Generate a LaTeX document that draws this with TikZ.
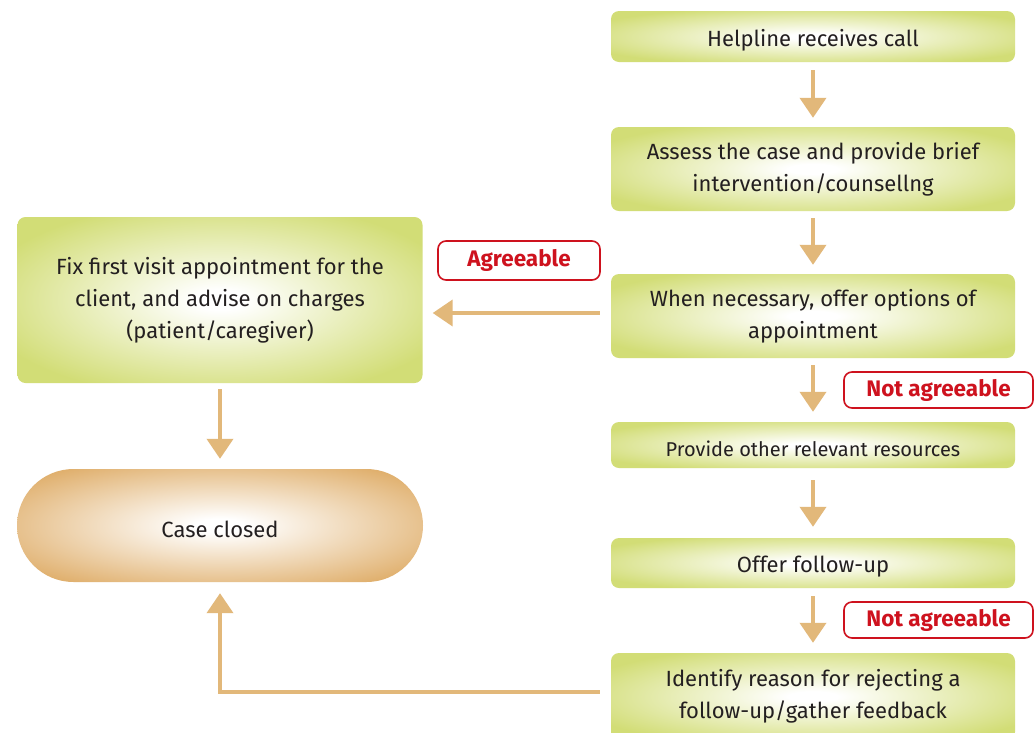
\documentclass[tikz,border=0pt]{standalone}
\usepackage{fontspec}
\setmainfont{Fira Sans}
\usetikzlibrary{arrows.meta,shapes.misc}
\definecolor{boxgreen}{RGB}{210,221,118}
\definecolor{boxtan}{RGB}{224,176,110}
\definecolor{arrowtan}{RGB}{226,184,122}
\definecolor{labelred}{RGB}{206,18,30}
\definecolor{txt}{RGB}{35,31,32}
\pgfdeclareradialshading{gshade}{\pgfpoint{0bp}{0bp}}{color(0bp)=(white); color(3bp)=(white); color(30bp)=(boxgreen); color(100bp)=(boxgreen)}
\pgfdeclareradialshading{tshade}{\pgfpoint{0bp}{0bp}}{color(0bp)=(white); color(3bp)=(white); color(31bp)=(boxtan); color(100bp)=(boxtan)}
\tikzset{
  gbox/.style={rectangle, rounded corners=8pt, shading=gshade,
    minimum width=404pt, text=txt, align=center, font=\fontsize{22}{32}\selectfont, inner sep=0pt,
    execute at begin node={\rule{0pt}{24pt}}},
  cbox/.style={rounded rectangle, shading=tshade,
    minimum width=406pt, minimum height=113pt, text=txt, font=\fontsize{22}{32}\selectfont, inner sep=0pt,
    execute at begin node={\rule{0pt}{24pt}}},
  tag/.style={rectangle, rounded corners=8pt, draw=labelred, line width=1.6pt, fill=white,
    text=labelred, font=\fontsize{22.5}{24}\selectfont\bfseries, inner sep=0pt},
  arr/.style={draw=arrowtan, line width=4pt, -{Triangle[width=26pt,length=20pt]}},
}
\begin{document}
\begin{tikzpicture}[x=1pt,y=1pt]
\useasboundingbox (0,0) rectangle (1034,-732);
\fill[white] (0,0) rectangle (1034,-732);
% right column
\node[gbox, minimum height=51pt] (b1) at (813,-36.5) {Helpline receives call};
\node[gbox, minimum height=84pt] (b2) at (813,-169) {Assess the case and provide brief\\intervention/counsellng};
\node[gbox, minimum height=84pt] (b3) at (813,-316) {When necessary, offer options of\\appointment};
\node[gbox, minimum height=46pt, font=\fontsize{20}{24}\selectfont] (b4) at (813,-445) {Provide other relevant resources};
\node[gbox, minimum height=50pt] (b5) at (813,-563) {Offer follow-up};
\node[gbox, minimum height=87pt] (b6) at (813,-696.5) {Identify reason for rejecting a\\follow-up/gather feedback};
% left column
\node[gbox, minimum width=405pt, minimum height=166pt] (fix) at (220,-300) {Fix first visit appointment for the\\client, and advise on charges\\(patient/caregiver)};
\node[cbox] (case) at (220,-525.5) {Case closed};
% labels
\node[tag, minimum width=162pt, minimum height=39pt] (ag) at (519,-260.5) {Agreeable};
\node[tag, minimum width=189pt, minimum height=36pt] (na1) at (938.5,-390) {Not agreeable};
\node[tag, minimum width=189pt, minimum height=36pt] (na2) at (938.5,-620) {Not agreeable};
% arrows
\draw[arr, shorten <=8pt, shorten >=9pt] (b1.south) -- (b2.north);
\draw[arr, shorten <=7pt, shorten >=9pt] (b2.south) -- (b3.north);
\draw[arr, shorten <=7pt, shorten >=10pt] (b3.south) -- (b4.north);
\draw[arr, shorten <=12pt, shorten >=11pt] (b4.south) -- (b5.north);
\draw[arr, shorten <=8pt, shorten >=10pt] (b5.south) -- (b6.north);
\draw[arr, shorten <=11pt, shorten >=10pt] ([yshift=3pt]b3.west) -- ([yshift=3pt]b3.west -| fix.east);
\draw[arr, shorten <=6pt, shorten >=10pt] (fix.south) -- (case.north);
\draw[arr, shorten <=11pt, shorten >=11pt] ([yshift=5pt]b6.west) -| (case.south);
\end{tikzpicture}
\end{document}
